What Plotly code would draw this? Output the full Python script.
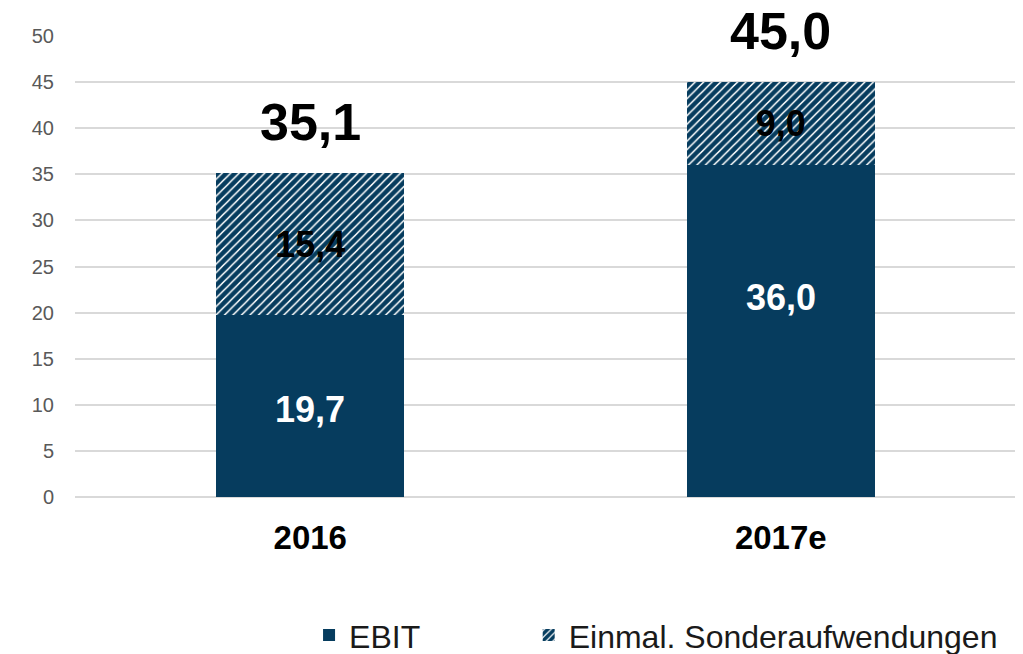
import plotly.graph_objects as go

categories = ["2016", "2017e"]
ebit = [19.7, 36.0]
sonder = [15.4, 9.0]
totals = [35.1, 45.0]
ebit_label_frac = [0.48, 0.6]

NAVY = "#063C5E"
FONT = "Arial, Liberation Sans, sans-serif"

fig = go.Figure()
fig.add_trace(go.Bar(
    x=categories, y=ebit, name="EBIT", legend="legend",
    marker=dict(color=NAVY, line=dict(width=0)),
))
fig.add_trace(go.Bar(
    x=categories, y=sonder, name="Einmal. Sonderaufwendungen", legend="legend2",
    marker=dict(color="white", line=dict(width=0),
                pattern=dict(shape="/", fgcolor=NAVY, bgcolor="white", size=6,
                             solidity=0.75, fgopacity=1)),
    text=[f"{v:.1f}".replace(".", ",") for v in sonder],
    textposition="inside", insidetextanchor="middle",
    textfont=dict(family=FONT, size=36, color="black", weight="bold"),
))

annotations = []
for i, (e, f) in enumerate(zip(ebit, ebit_label_frac)):
    annotations.append(dict(x=i, y=e * f, xref="x", yref="y", showarrow=False,
                            text=f"<b>{e:.1f}</b>".replace(".", ","),
                            font=dict(family=FONT, size=36, color="white"),
                            yanchor="middle"))
for i, t in enumerate(totals):
    annotations.append(dict(x=i, y=t, xref="x", yref="y", showarrow=False,
                            text=f"<b>{t:.1f}</b>".replace(".", ","),
                            font=dict(family=FONT, size=52, color="black"),
                            yanchor="middle", yshift=51))

legend_style = dict(orientation="h", xanchor="left", yanchor="middle",
                    xref="container", yref="container",
                    font=dict(family=FONT, size=32, color="#1a1a1a"),
                    bgcolor="rgba(0,0,0,0)")

fig.update_layout(
    barmode="stack",
    bargap=0.6,
    width=1015, height=646,
    margin=dict(l=66.5, r=6.5, t=28, b=157, autoexpand=False),
    paper_bgcolor="white", plot_bgcolor="white",
    font=dict(family=FONT),
    separators=",.",
    annotations=annotations,
    showlegend=True,
    legend=dict(x=0.2966, y=0.029, **legend_style),
    legend2=dict(x=0.513, y=0.029, **legend_style),
    xaxis=dict(type="category", range=[-0.5, 1.5], showgrid=False, showline=False,
               zeroline=False, ticks="", ticklabelstandoff=18, automargin=False,
               tickfont=dict(family=FONT, size=33, color="black", weight="bold")),
    yaxis=dict(range=[0, 50], dtick=5, tick0=0, showgrid=True, gridcolor="#D9D9D9",
               gridwidth=2, zeroline=True, zerolinecolor="#D9D9D9", zerolinewidth=2,
               showline=False, ticks="", ticklabelstandoff=20, automargin=False,
               tickfont=dict(family=FONT, size=20, color="#595959")),
)

fig.write_html("out.html")
